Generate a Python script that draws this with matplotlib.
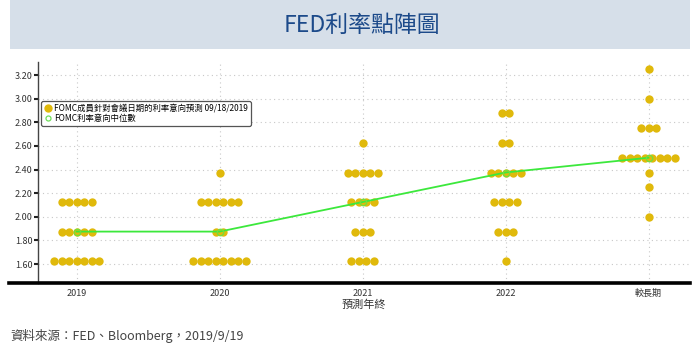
import matplotlib
matplotlib.use("Agg")
import matplotlib.pyplot as plt
from matplotlib.lines import Line2D
from matplotlib.patches import Rectangle

plt.rcParams['font.family'] = ['Noto Sans CJK TC', 'DejaVu Sans']

categories = ["2019", "2020", "2021", "2022", "較長期"]
# rate level -> number of FOMC participants
dots_2019 = {1.625: 7, 1.875: 5, 2.125: 5}
dots_2020 = {1.625: 8, 1.875: 2, 2.125: 6, 2.375: 1}
dots_2021 = {1.625: 4, 1.875: 3, 2.125: 4, 2.375: 5, 2.625: 1}
dots_2022 = {1.625: 1, 1.875: 3, 2.125: 4, 2.375: 5, 2.625: 2, 2.875: 2}
dots_long = {2.0: 1, 2.25: 1, 2.375: 1, 2.5: 8, 2.75: 3, 3.0: 1, 3.25: 1}
medians = [1.875, 1.875, 2.125, 2.375, 2.5]
y_ticks = [1.60, 1.80, 2.00, 2.20, 2.40, 2.60, 2.80, 3.00, 3.20]

all_dots = [dots_2019, dots_2020, dots_2021, dots_2022, dots_long]

fig = plt.figure(figsize=(7.0, 3.53), dpi=100)

# title banner
fig.patches.append(Rectangle((10/700, 1-49/353), 680/700, 49/353, transform=fig.transFigure,
                             facecolor="#d6dfe9", edgecolor="none", zorder=0))
fig.text(362/700, 1-25/353, "FED利率點陣圖", ha="center", va="center", fontsize=16.5,
         color="#1c4a8a")

ax = fig.add_axes([38/700, 1-283/353, 652/700, 221/353])

gold = "#e0b90b"
step = 0.0524
for i, d in enumerate(all_dots):
    xs, ys = [], []
    for lvl, n in d.items():
        for k in range(n):
            xs.append(i + (k - (n - 1) / 2) * step)
            ys.append(lvl)
    ax.plot(xs, ys, linestyle="none", marker="o", markersize=6.0, color=gold,
            markeredgewidth=0, zorder=3)

ax.plot(range(len(categories)), medians, color="#3ce83c", linewidth=1.3,
        marker="o", markersize=4.6, markerfacecolor="none", markeredgecolor="#74de3c",
        markeredgewidth=1.0, zorder=4)

ax.set_xlim(-0.27, 4.29)
ax.set_ylim(1.44, 3.31)
ax.set_yticks(y_ticks)
ax.set_yticklabels([f"{v:.2f}" for v in y_ticks], fontsize=6.5, color="#333333")
ax.set_xticks(range(len(categories)))
ax.set_xticklabels(categories, fontsize=6.5, color="#333333")
ax.tick_params(axis="y", length=3, width=1.5, color="#222222", pad=1)
ax.tick_params(axis="x", length=0, pad=4)
ax.grid(True, linestyle=(0, (1, 3)), color="#c8c8c8", linewidth=0.8)
ax.set_axisbelow(True)
for s in ["top", "right", "bottom"]:
    ax.spines[s].set_visible(False)
ax.spines["left"].set_color("#444444")
ax.spines["left"].set_linewidth(1.0)
ax.set_xlabel("預測年終", fontsize=8, color="#333333", labelpad=1)

# thick bottom axis line
fig.lines.append(Line2D([9/700, 690/700], [1-283/353, 1-283/353], transform=fig.transFigure,
                        color="black", linewidth=2.6))

handles = [
    Line2D([], [], linestyle="none", marker="o", markersize=6, color=gold, markeredgewidth=0),
    Line2D([], [], linestyle="none", marker="o", markersize=3.6, markerfacecolor="none",
           markeredgecolor="#6ee05a", markeredgewidth=0.9),
]
leg = ax.legend(handles, ["FOMC成員針對會議日期的利率意向預測 09/18/2019", "FOMC利率意向中位數"],
                loc="upper left", bbox_to_anchor=(3/652, (283-101)/221), fontsize=6.0,
                frameon=True, fancybox=True, handletextpad=0.2, borderpad=0.35,
                labelspacing=0.1, handlelength=1.0, borderaxespad=0)
leg.get_frame().set_edgecolor("#555555")
leg.get_frame().set_linewidth(0.9)
leg.get_frame().set_alpha(1)

fig.text(10/700, 1-336/353, "資料來源：FED、Bloomberg，2019/9/19", ha="left", va="center",
         fontsize=9, color="#444444")

fig.savefig("out.png", dpi=100)
